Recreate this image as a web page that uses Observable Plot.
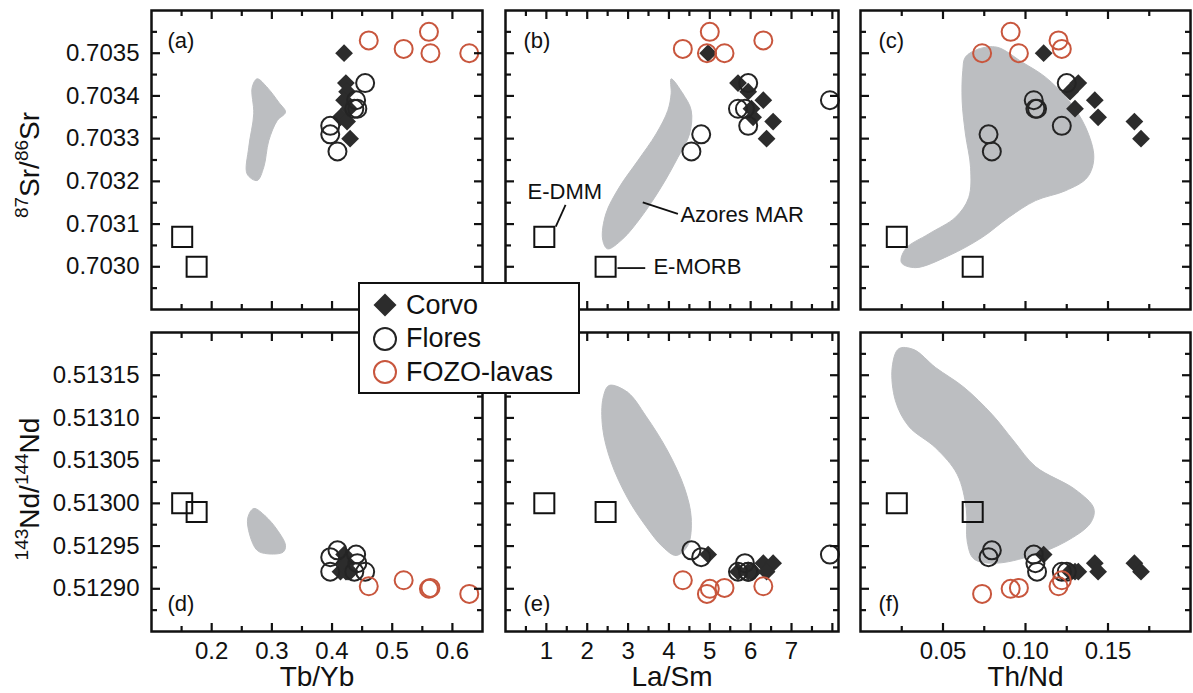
<!DOCTYPE html>
<html>
<head>
<meta charset="utf-8">
<script src="https://cdn.jsdelivr.net/npm/d3@7"></script>
<script src="https://cdn.jsdelivr.net/npm/@observablehq/plot@0.6"></script>
<style>
  body { margin: 0; background: #fff; font-family: "Liberation Sans", Arial, sans-serif; }
  #fig { position: relative; width: 1193px; height: 693px; overflow: hidden; background: #fff; }
  .panel { position: absolute; }
  .ytitle { position: absolute; transform: translate(-50%, -50%) rotate(-90deg); white-space: nowrap;
            font-size: 28px; color: #111; line-height: 1; }
  .ytitle sup { font-size: 19px; vertical-align: 0; position: relative; top: -11px; }
  .legend { position: absolute; left: 358px; top: 282px; width: 222px; height: 112px; box-sizing: border-box;
            border: 2px solid #111; background: #fff; z-index: 5; }
  .legend .row { position: absolute; left: 12px; height: 30px; display: flex; align-items: center; }
  .legend .row span { font-size: 27px; color: #111; margin-left: 8px; }
</style>
</head>
<body>
<div id="fig"></div>
<script>
// ---- Sample data: Corvo lavas ----
const corvoSr   = [0.70350, 0.70343, 0.70341, 0.70339, 0.70337, 0.70335, 0.70334, 0.70330];
const corvoNd   = [0.51294, 0.51292, 0.51292, 0.51293, 0.51292, 0.51292, 0.51293, 0.51292];
const corvoTbYb = [0.420, 0.423, 0.425, 0.420, 0.428, 0.414, 0.425, 0.430];
const corvoLaSm = [4.96, 5.69, 5.94, 6.31, 6.02, 6.06, 6.55, 6.39];
const corvoThNd = [0.111, 0.132, 0.127, 0.142, 0.130, 0.144, 0.166, 0.170];

// ---- Flores lavas ----
const floresSr   = [0.70343, 0.70339, 0.70337, 0.70337, 0.70333, 0.70331, 0.70327];
const floresNd   = [0.51292, 0.51294, 0.51292, 0.51293, 0.51292, 0.512937, 0.512945];
const floresTbYb = [0.455, 0.440, 0.437, 0.442, 0.397, 0.397, 0.409];
const floresLaSm = [5.94, 7.94, 5.69, 5.86, 5.94, 4.79, 4.55];
const floresThNd = [0.125, 0.105, 0.107, 0.106, 0.122, 0.0776, 0.0796];

// ---- FOZO lavas ----
const fozoSr   = [0.70353, 0.70351, 0.70355, 0.70350, 0.70350];
const fozoNd   = [0.512903, 0.51291, 0.51290, 0.512901, 0.512894];
const fozoTbYb = [0.461, 0.519, 0.561, 0.5635, 0.628];
const fozoLaSm = [6.31, 4.34, 5.00, 5.36, 4.93];
const fozoThNd = [0.120, 0.122, 0.091, 0.096, 0.0737];

// ---- Mantle end-members (E-DMM, E-MORB) ----
const endNames = ["E-DMM", "E-MORB"];
const endSr   = [0.70307, 0.70300];
const endNd   = [0.51300, 0.51299];
const endTbYb = [0.151, 0.175];
const endLaSm = [0.95, 2.45];
const endThNd = [0.022, 0.068];

// ---- Azores MAR field outlines ([ratio, isotope] vertices) ----
const fieldA = [[0.2756,0.70344],[0.2922,0.70342],[0.3115,0.703385],[0.3226,0.703362],[0.3088,0.703342],
  [0.2948,0.703295],[0.2865,0.703233],[0.2756,0.703202],[0.2590,0.703217],[0.2616,0.70328],[0.2699,0.703358],[0.2673,0.70342]];
const fieldB = [[4.054,0.70344],[4.342,0.703405],[4.545,0.703366],[4.504,0.703311],[4.219,0.703256],[3.808,0.703186],
  [3.317,0.703116],[2.867,0.703065],[2.499,0.703042],[2.376,0.703065],[2.457,0.703124],[2.784,0.703186],
  [3.236,0.703248],[3.686,0.703311],[3.973,0.703366],[4.054,0.703405]];
const fieldC = [[0.0636,0.703491],[0.0717,0.70351],[0.0828,0.703514],[0.098,0.703479],[0.1121,0.703444],[0.1262,0.703389],
  [0.1364,0.703327],[0.1414,0.703256],[0.1374,0.703209],[0.1242,0.703178],[0.1061,0.703155],[0.0899,0.703116],
  [0.0738,0.703069],[0.0535,0.703026],[0.0333,0.702998],[0.0248,0.70301],[0.0273,0.703042],[0.0414,0.703077],
  [0.0576,0.703116],[0.0656,0.703162],[0.0667,0.703233],[0.0636,0.703311],[0.0616,0.703389],[0.062,0.703459]];
const fieldD = [[0.270,0.512994],[0.2894,0.512985],[0.3088,0.512969],[0.3226,0.512951],[0.3188,0.512943],
  [0.2922,0.512941],[0.2756,0.512945],[0.2633,0.512963],[0.260,0.512983]];
const fieldE = [[2.538,0.513138],[2.99,0.51313],[3.44,0.513102],[3.973,0.513061],[4.381,0.513018],[4.545,0.512983],
  [4.464,0.512951],[4.177,0.512939],[3.85,0.512949],[3.44,0.512973],[2.99,0.513006],[2.58,0.513049],
  [2.376,0.513089],[2.391,0.513124]];
const fieldF = [[0.0232,0.513181],[0.0323,0.51318],[0.0455,0.513159],[0.0626,0.513136],[0.0798,0.513104],
  [0.0929,0.513073],[0.1061,0.513043],[0.1303,0.513016],[0.1414,0.512994],[0.1394,0.512977],[0.1242,0.512955],
  [0.1041,0.512939],[0.0818,0.51293],[0.0687,0.512935],[0.0647,0.512955],[0.0641,0.512994],[0.0586,0.513034],
  [0.0455,0.513065],[0.0293,0.51309],[0.0212,0.51312],[0.0192,0.513159]];

// ---- Annotations in panel (b) ----
const noteText = ["E-DMM", "Azores MAR", "E-MORB"];
const noteX    = [0.54, 4.28, 3.62];
const noteY    = [0.703176, 0.703122, 0.70300];
const leaderX1 = [1.23, 3.36, 2.74];
const leaderY1 = [0.703094, 0.703151, 0.702997];
const leaderX2 = [1.47, 4.22, 3.42];
const leaderY2 = [0.703145, 0.703124, 0.702997];

// ---- Axis domains and ticks ----
const srDomain = [0.7029, 0.7036];
const srMajor = [0.7030, 0.7031, 0.7032, 0.7033, 0.7034, 0.7035];
const srMinor = [0.70295, 0.70305, 0.70315, 0.70325, 0.70335, 0.70345, 0.70355];
const ndDomain = [0.51285, 0.5132];
const ndMajor = [0.51290, 0.51295, 0.51300, 0.51305, 0.51310, 0.51315];
const ndMinor = [0.512875, 0.512925, 0.512975, 0.513025, 0.513075, 0.513125, 0.513175];
const tbDomain = [0.1, 0.65];
const tbMajor = [0.2, 0.3, 0.4, 0.5, 0.6];
const tbMinor = [0.15, 0.25, 0.35, 0.45, 0.55];
const laDomain = [0, 8.15];
const laMajor = [1, 2, 3, 4, 5, 6, 7, 8];
const laLabels = [1, 2, 3, 4, 5, 6, 7];
const laMinor = [0.5, 1.5, 2.5, 3.5, 4.5, 5.5, 6.5, 7.5];
const thDomain = [0, 0.2];
const thMajor = [0.05, 0.10, 0.15];
const thMinor = [0.025, 0.075, 0.125, 0.175];

const FIELD = "#bcbec1", CORVO = "#2c2c2c", FLORES = "#242424", FOZO = "#c8563d", INK = "#111";
const FONT = '"Liberation Sans", Arial, sans-serif';
const MAJOR = 8.5, MINOR = 5.5;   // tick lengths in pixels

const zip = (a, b) => a.map((v, i) => [v, b[i]]);

// Tick stubs as link segments: each runs from the frame edge inward
function tickSegments(ticks, dim, edge, inward) {
  return ticks.map(t => dim === "x" ? {x1: t, x2: t, y1: edge, y2: edge + inward} : {y1: t, y2: t, x1: edge, x2: edge + inward});
}

function frameTicks(cfg) {
  const [x0, x1] = cfg.xDomain, [y0, y1] = cfg.yDomain;
  const iw = cfg.w - cfg.ml - cfg.mr, ih = cfg.h - cfg.mt - cfg.mb;
  const perPxX = (x1 - x0) / iw, perPxY = (y1 - y0) / ih;
  let segs = [];
  for (const [ticks, len] of [[cfg.xMajor, MAJOR], [cfg.xMinor, MINOR]]) {
    segs = segs.concat(tickSegments(ticks, "x", y0, len * perPxY), tickSegments(ticks, "x", y1, -len * perPxY));
  }
  for (const [ticks, len] of [[cfg.yMajor, MAJOR], [cfg.yMinor, MINOR]]) {
    segs = segs.concat(tickSegments(ticks, "y", x0, len * perPxX), tickSegments(ticks, "y", x1, -len * perPxX));
  }
  return Plot.link(segs, {x1: "x1", y1: "y1", x2: "x2", y2: "y2", stroke: INK, strokeWidth: 2.2});
}

function panel(cfg) {
  const marks = [
    Plot.line(cfg.field, {x: d => d[0], y: d => d[1], curve: "catmull-rom-closed", fill: FIELD, stroke: FIELD, strokeWidth: 1}),
    ...(cfg.extras || []),
    Plot.dot(zip(cfg.end, cfg.endY), {x: d => d[0], y: d => d[1], symbol: "square", r: 11.3, stroke: INK, strokeWidth: 2, fill: "none"}),
    Plot.dot(zip(cfg.corvo, cfg.corvoY), {x: d => d[0], y: d => d[1], symbol: "diamond2", r: 8, fill: CORVO, stroke: "none"}),
    Plot.dot(zip(cfg.flores, cfg.floresY), {x: d => d[0], y: d => d[1], symbol: "circle", r: 9, stroke: FLORES, strokeWidth: 2, fill: "none"}),
    Plot.dot(zip(cfg.fozo, cfg.fozoY), {x: d => d[0], y: d => d[1], symbol: "circle", r: 9, stroke: FOZO, strokeWidth: 2, fill: "none"}),
    Plot.frame({stroke: INK, strokeWidth: 2.5}),
    frameTicks(cfg),
    Plot.text([cfg.letter], {frameAnchor: cfg.letterAnchor, dx: cfg.letterDx, dy: cfg.letterDy,
      textAnchor: "start", lineAnchor: "middle", fontSize: 22, fill: INK})
  ];
  if (cfg.xLabels) {
    marks.push(Plot.axisX(cfg.xLabels, {anchor: "bottom", tickSize: 0, tickPadding: 10, tickFormat: cfg.xFormat,
      fontSize: 24, fill: INK, label: null}));
    marks.push(Plot.text([cfg.xTitle], {frameAnchor: "bottom", dy: 46, lineAnchor: "middle", fontSize: 28, fill: INK}));
  }
  if (cfg.yLabels) {
    marks.push(Plot.axisY(cfg.yLabels, {anchor: "left", tickSize: 0, tickPadding: 12, tickFormat: cfg.yFormat,
      fontSize: 24, fill: INK, label: null}));
  }
  return Plot.plot({
    width: cfg.w, height: cfg.h,
    marginLeft: cfg.ml, marginRight: cfg.mr, marginTop: cfg.mt, marginBottom: cfg.mb,
    x: {domain: cfg.xDomain, axis: null},
    y: {domain: cfg.yDomain, axis: null},
    style: {fontFamily: FONT, background: "none", overflow: "visible", color: INK},
    marks
  });
}

// Layout of the 2 x 3 grid
const cols = [
  {left: 0, w: 490, ml: 151, mr: 8},
  {left: 495, w: 350, ml: 10, mr: 7},
  {left: 850, w: 343, ml: 10, mr: 3}
];
const rows = [
  {top: 0, h: 320, mt: 10, mb: 11},
  {top: 320, h: 373, mt: 12, mb: 62}
];

const ratioSets = [
  {corvo: corvoTbYb, flores: floresTbYb, fozo: fozoTbYb, end: endTbYb, xDomain: tbDomain,
   xMajor: tbMajor, xMinor: tbMinor, xLabels: tbMajor, xFormat: d3.format(".1f"), xTitle: "Tb/Yb"},
  {corvo: corvoLaSm, flores: floresLaSm, fozo: fozoLaSm, end: endLaSm, xDomain: laDomain,
   xMajor: laMajor, xMinor: laMinor, xLabels: laLabels, xFormat: d3.format("d"), xTitle: "La/Sm"},
  {corvo: corvoThNd, flores: floresThNd, fozo: fozoThNd, end: endThNd, xDomain: thDomain,
   xMajor: thMajor, xMinor: thMinor, xLabels: thMajor, xFormat: d3.format(".2f"), xTitle: "Th/Nd"}
];
const isoSets = [
  {corvoY: corvoSr, floresY: floresSr, fozoY: fozoSr, endY: endSr, yDomain: srDomain, yMajor: srMajor, yMinor: srMinor,
   yFormat: d3.format(".4f"), fields: [fieldA, fieldB, fieldC], letters: ["(a)", "(b)", "(c)"]},
  {corvoY: corvoNd, floresY: floresNd, fozoY: fozoNd, endY: endNd, yDomain: ndDomain, yMajor: ndMajor, yMinor: ndMinor,
   yFormat: d3.format(".5f"), fields: [fieldD, fieldE, fieldF], letters: ["(d)", "(e)", "(f)"]}
];

const fig = document.getElementById("fig");

isoSets.forEach((iso, r) => {
  ratioSets.forEach((rat, c) => {
    const col = cols[c], row = rows[r];
    const extras = [];
    if (r === 0 && c === 1) {
      const notes = noteText.map((t, i) => ({t, x: noteX[i], y: noteY[i]}));
      const leaders = leaderX1.map((x1, i) => ({x1, y1: leaderY1[i], x2: leaderX2[i], y2: leaderY2[i]}));
      extras.push(Plot.link(leaders, {x1: "x1", y1: "y1", x2: "x2", y2: "y2", stroke: INK, strokeWidth: 1.8}));
      extras.push(Plot.text(notes, {x: "x", y: "y", text: "t", textAnchor: "start", lineAnchor: "middle", fontSize: 22, fill: INK}));
    }
    const svg = panel({
      ...rat, ...iso,
      field: iso.fields[c],
      extras,
      letter: iso.letters[c],
      letterAnchor: r === 0 ? "top-left" : "bottom-left",
      letterDx: c === 0 ? 16 : 18,
      letterDy: r === 0 ? 30 : -28,
      xLabels: r === 1 ? rat.xLabels : null,
      yLabels: c === 0 ? iso.yMajor : null,
      w: col.w, h: row.h, ml: col.ml, mr: col.mr, mt: row.mt, mb: row.mb
    });
    svg.classList.add("panel");
    svg.style.left = col.left + "px";
    svg.style.top = row.top + "px";
    fig.appendChild(svg);
  });
});

// Isotope axis titles
const t1 = document.createElement("div");
t1.className = "ytitle";
t1.style.left = "30px"; t1.style.top = "165px";
t1.innerHTML = "<sup>87</sup>Sr/<sup>86</sup>Sr";
fig.appendChild(t1);
const t2 = document.createElement("div");
t2.className = "ytitle";
t2.style.left = "30px"; t2.style.top = "489px";
t2.innerHTML = "<sup>143</sup>Nd/<sup>144</sup>Nd";
fig.appendChild(t2);

// Legend
const legend = document.createElement("div");
legend.className = "legend";
const legendRows = [
  {label: "Corvo", svg: `<svg width="26" height="26"><path d="M13,1.5 L24.5,13 L13,24.5 L1.5,13Z" fill="${CORVO}"/></svg>`},
  {label: "Flores", svg: `<svg width="26" height="26"><circle cx="13" cy="13" r="11" fill="none" stroke="${FLORES}" stroke-width="2"/></svg>`},
  {label: "FOZO-lavas", svg: `<svg width="26" height="26"><circle cx="13" cy="13" r="11" fill="none" stroke="${FOZO}" stroke-width="2"/></svg>`}
];
legendRows.forEach((d, i) => {
  const row = document.createElement("div");
  row.className = "row";
  row.style.top = (6 + i * 33.5) + "px";
  row.innerHTML = d.svg + `<span>${d.label}</span>`;
  legend.appendChild(row);
});
fig.appendChild(legend);
</script>
</body>
</html>
